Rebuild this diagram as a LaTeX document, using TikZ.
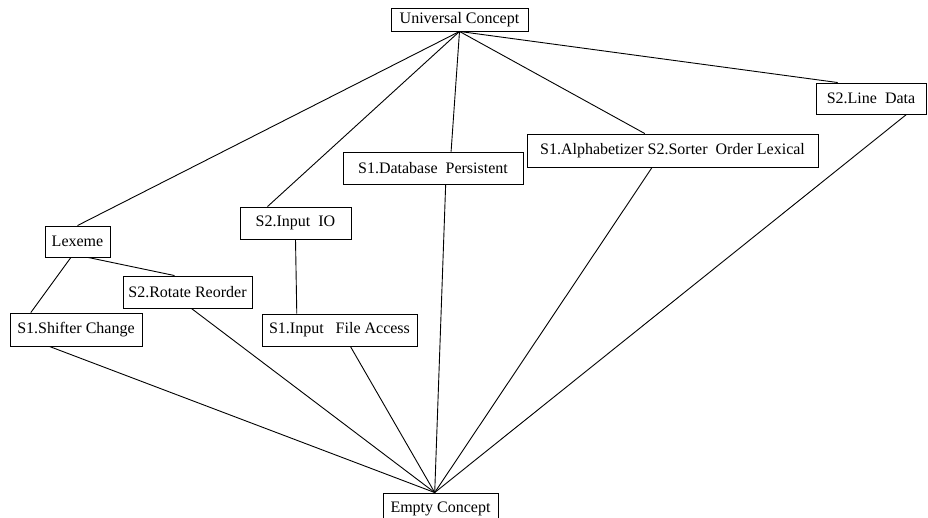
\documentclass[tikz,border=0pt]{standalone}
\usepackage{fontspec}
\setmainfont{Liberation Serif}
\usetikzlibrary{calc}
\tikzset{
  cbox/.style={draw, line width=0.9pt, inner sep=0pt, font=\fontsize{16}{19}\selectfont, fill=white},
  link/.style={line width=0.9pt},
}
\newcommand{\bx}[4]{\node[cbox, minimum width=#3pt, minimum height=#4pt] (#1) at #2}
\begin{document}
\begin{tikzpicture}[x=1pt,y=-1pt]
\useasboundingbox (0,0) rectangle (928,518);
\bx{U}{(459.5,19.5)}{137}{23} {Universal Concept};
\bx{LD}{(871,98.5)}{110}{31} {S2.Line\ \ Data};
\bx{AL}{(672.5,150.5)}{291}{33} {S1.Alphabetizer S2.Sorter\ \ Order Lexical};
\bx{DB}{(433,168)}{180}{32} {S1.Database\ \ Persistent};
\bx{IO}{(295.5,223)}{111}{32} {S2.Input\ \ IO};
\bx{LX}{(77.5,241.5)}{65}{31} {Lexeme};
\bx{RR}{(187.5,292)}{129}{32} {S2.Rotate Reorder};
\bx{SC}{(76,329.5)}{132}{33} {S1.Shifter Change};
\bx{FA}{(339.5,330)}{155}{32} {S1.Input\ \ \ File Access};
\bx{E}{(440.5,509)}{115}{32} {Empty Concept};
% top edges
\draw[link] (U.south) -- (LX.north);
\draw[link] (U.south) -- ($(IO.north west)!0.25!(IO.north east)$);
\draw[link] (U.south) -- ($(DB.north west)!0.6!(DB.north east)$);
\draw[link] (U.south) -- ($(AL.north west)!0.405!(AL.north east)$);
\draw[link] (U.south) -- ($(LD.north west)!0.2!(LD.north east)$);
% middle
\draw[link] ($(LX.south west)!0.4!(LX.south east)$) -- ($(SC.north west)!0.16!(SC.north east)$);
\draw[link] ($(LX.south west)!0.66!(LX.south east)$) -- ($(RR.north west)!0.4!(RR.north east)$);
\draw[link] (IO.south) -- ($(FA.north west)!0.226!(FA.north east)$);
% bottom edges
\coordinate (et) at ($(E.north west)!0.45!(E.north east)$);
\draw[link] ($(SC.south west)!0.3!(SC.south east)$) -- (et);
\draw[link] ($(RR.south west)!0.53!(RR.south east)$) -- (et);
\draw[link] ($(FA.south west)!0.57!(FA.south east)$) -- (et);
\draw[link] ($(DB.south west)!0.57!(DB.south east)$) -- (et);
\draw[link] ($(AL.south west)!0.43!(AL.south east)$) -- (et);
\draw[link] ($(LD.south west)!0.82!(LD.south east)$) -- (et);
\end{tikzpicture}
\end{document}
